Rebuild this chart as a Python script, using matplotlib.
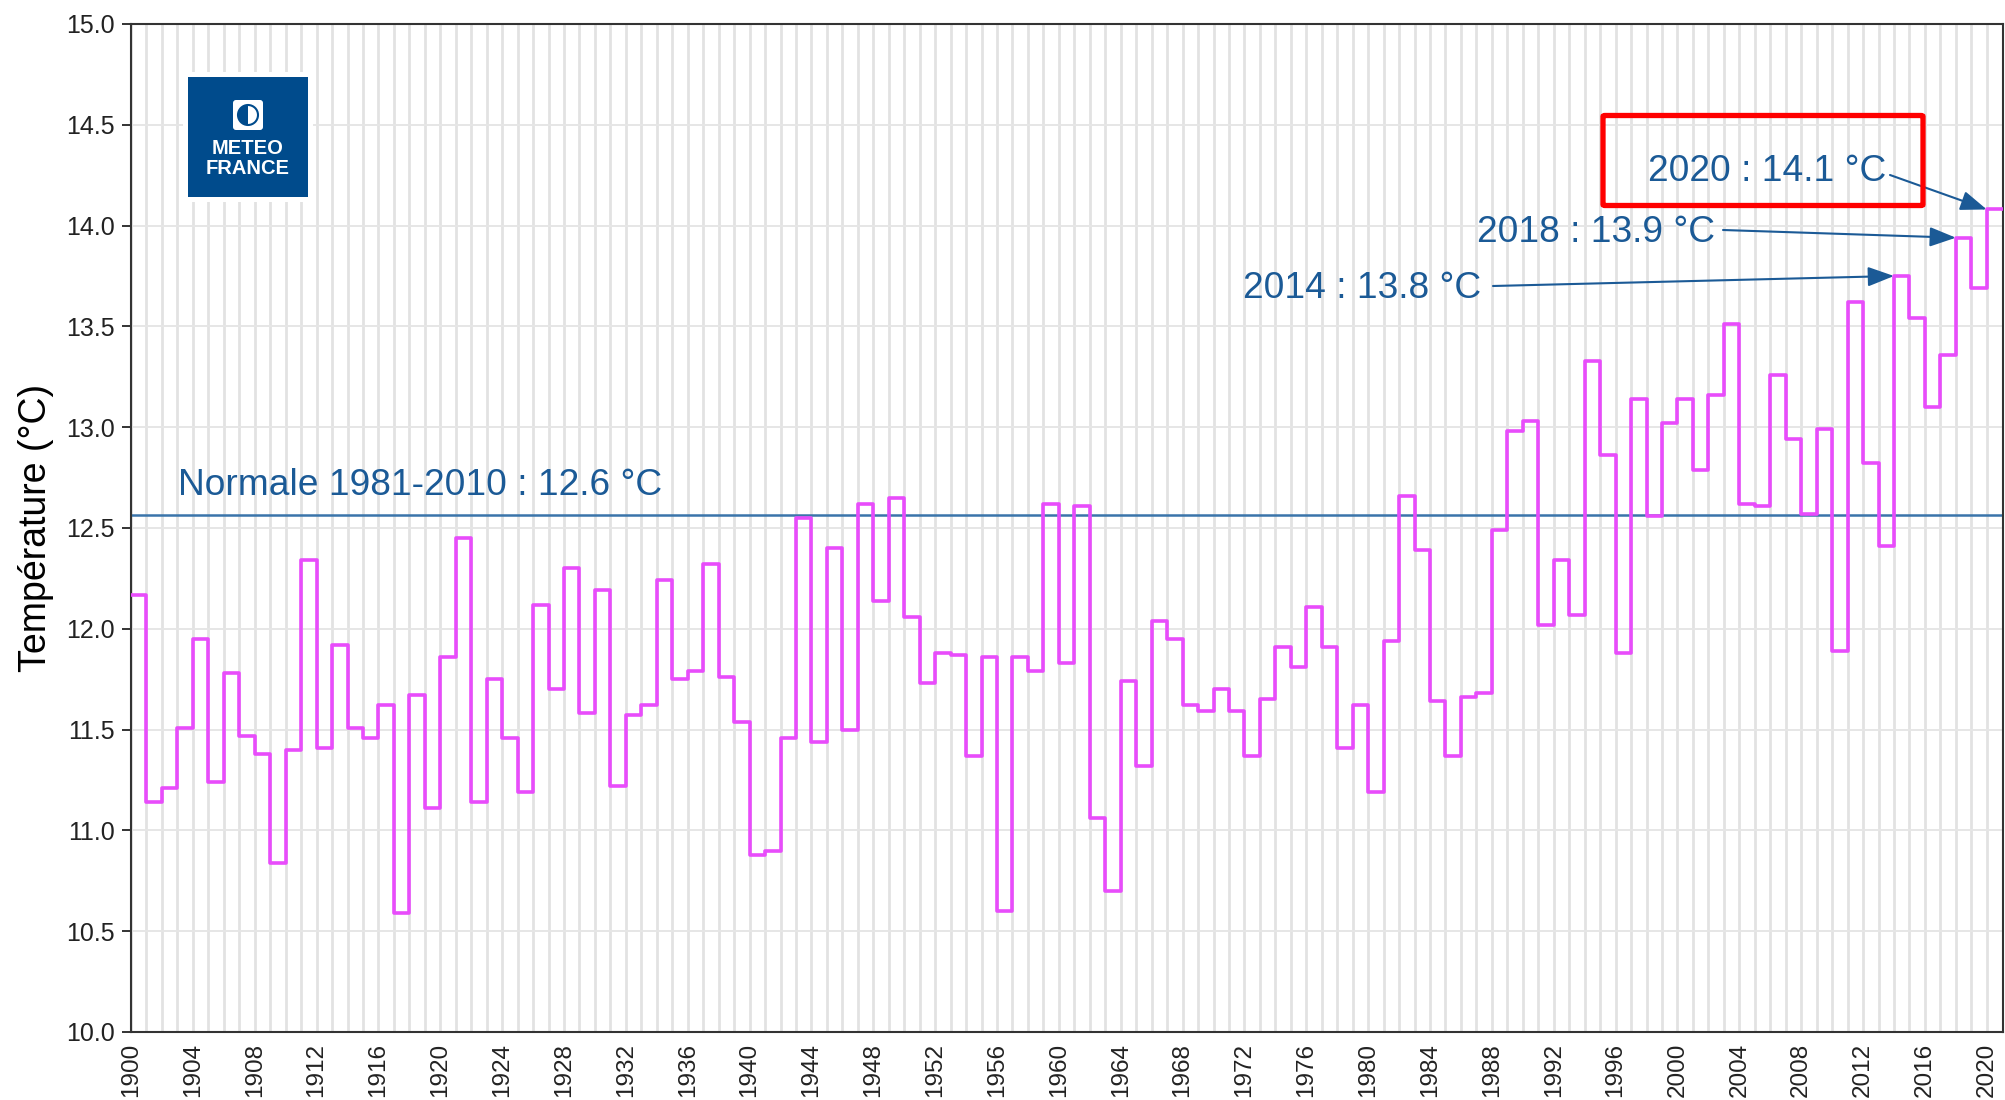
import matplotlib
matplotlib.use('Agg')
import matplotlib.pyplot as plt
from matplotlib.patches import Rectangle, FancyBboxPatch, Circle, Wedge
import numpy as np

plt.rcParams['font.family'] = ['Liberation Sans', 'DejaVu Sans']

# Température moyenne annuelle en France (°C), 1900-2020
annees = list(range(1900, 2021))
temperatures = [
    12.17, 11.14, 11.21, 11.51, 11.95, 11.24, 11.78, 11.47, 11.38, 10.84,  # 1900-1909
    11.40, 12.34, 11.41, 11.92, 11.51, 11.46, 11.62, 10.59, 11.67, 11.11,  # 1910-1919
    11.86, 12.45, 11.14, 11.75, 11.46, 11.19, 12.12, 11.70, 12.30, 11.58,  # 1920-1929
    12.19, 11.22, 11.57, 11.62, 12.24, 11.75, 11.79, 12.32, 11.76, 11.54,  # 1930-1939
    10.88, 10.90, 11.46, 12.55, 11.44, 12.40, 11.50, 12.62, 12.14, 12.65,  # 1940-1949
    12.06, 11.73, 11.88, 11.87, 11.37, 11.86, 10.60, 11.86, 11.79, 12.62,  # 1950-1959
    11.83, 12.61, 11.06, 10.70, 11.74, 11.32, 12.04, 11.95, 11.62, 11.59,  # 1960-1969
    11.70, 11.59, 11.37, 11.65, 11.91, 11.81, 12.11, 11.91, 11.41, 11.62,  # 1970-1979
    11.19, 11.94, 12.66, 12.39, 11.64, 11.37, 11.66, 11.68, 12.49, 12.98,  # 1980-1989
    13.03, 12.02, 12.34, 12.07, 13.33, 12.86, 11.88, 13.14, 12.56, 13.02,  # 1990-1999
    13.14, 12.79, 13.16, 13.51, 12.62, 12.61, 13.26, 12.94, 12.57, 12.99,  # 2000-2009
    11.89, 13.62, 12.82, 12.41, 13.75, 13.54, 13.10, 13.36, 13.94, 13.69,  # 2010-2019
    14.08,                                                                  # 2020
]
normale = 12.565
normale_label = "Normale 1981-2010 : 12.6 °C"

record_years = [2014, 2018, 2020]
record_labels = ["2014 : 13.8 °C", "2018 : 13.9 °C", "2020 : 14.1 °C"]

W, H = 2005, 1100
BLUE_TXT = '#1b5a96'


def fp(x, y):
    # pixel position (from top-left) -> figure fraction
    return (x / W, 1 - y / H)


fig = plt.figure(figsize=(W / 100, H / 100), dpi=100)
ax = fig.add_axes([131 / W, 1 - 1032 / H, (2003 - 131) / W, (1032 - 24) / H])

# courbe en escalier (une marche par année)
x_step = annees + [annees[-1] + 1]
y_step = temperatures + [temperatures[-1]]
ax.step(x_step, y_step, where='post', color='#e84cfb', lw=2.6, zorder=3)

# ligne de la normale
ax.axhline(normale, color='#3a74aa', lw=1.8, zorder=2)

ax.set_xlim(1900, 2021.05)
ax.set_ylim(10, 15)
ax.set_xticks(range(1900, 2021, 4))
ax.set_xticks(range(1900, 2021), minor=True)
ax.set_yticks(np.arange(10, 15.01, 0.5))
ax.set_yticklabels([f"{v:.1f}" for v in np.arange(10, 15.01, 0.5)])
ax.tick_params(axis='x', which='both', length=0, pad=8, labelsize=17.5,
               labelrotation=90, labelcolor='#222222')
ax.tick_params(axis='y', length=6.5, width=1.4, pad=5, labelsize=18,
               labelcolor='#222222', color='#333333')

ax.grid(axis='x', which='both', color='#e2e2e2', lw=2.0, zorder=0)
ax.grid(axis='y', which='major', color='#e6e6e6', lw=1.4, zorder=0)
ax.set_axisbelow(True)
for s in ax.spines.values():
    s.set_color('#333333')
    s.set_linewidth(1.5)

ax.set_ylabel("Température (°C)", fontsize=27, color='black')
ax.yaxis.set_label_coords(-0.041, 0.5)

# textes et flèches
fig.text(*fp(178, 495), normale_label, fontsize=26.7, color=BLUE_TXT,
         ha='left', va='baseline')

text_pos = [(1243, 298), (1477, 242), (1648, 181)]
arrow_start = [(1493, 286), (1723, 230), (1890, 175)]
for yr, lab, tp, st in zip(record_years, record_labels, text_pos, arrow_start):
    fig.text(*fp(*tp), lab, fontsize=26.7, color=BLUE_TXT, ha='left', va='baseline')
    ax.annotate('', xy=(yr, temperatures[annees.index(yr)]), xycoords='data',
                xytext=fp(*st), textcoords='figure fraction',
                arrowprops=dict(arrowstyle='-|>,head_length=0.8,head_width=0.3',
                                mutation_scale=20, color=BLUE_TXT, lw=1.5,
                                shrinkA=0, shrinkB=0))

# cadre rouge autour de 2020
x0, y0 = fp(1603, 205.5)
x1, y1 = fp(1923, 115.5)
fig.add_artist(FancyBboxPatch((x0, y0), x1 - x0, y1 - y0,
                              boxstyle='round,pad=0,rounding_size=0.001',
                              transform=fig.transFigure, fill=False,
                              edgecolor='#ff0000', lw=3.8, zorder=10))

# logo Météo-France
lx0, ly0 = fp(183, 202)
fig.add_artist(Rectangle((lx0, ly0), 130 / W, 130 / H, transform=fig.transFigure,
                         facecolor='white', edgecolor='none', zorder=5))
lax = fig.add_axes([188 / W, 1 - 197 / H, 120 / W, 120 / H], zorder=6)
lax.set_xlim(0, 120)
lax.set_ylim(120, 0)
lax.axis('off')
lax.add_patch(Rectangle((0, 0), 120, 120, facecolor='#004b8c', edgecolor='none'))
lax.add_patch(FancyBboxPatch((45, 23), 30, 30, boxstyle='round,pad=0,rounding_size=3',
                             facecolor='white', edgecolor='none'))
lax.add_patch(Circle((60, 38), 10, facecolor='white', edgecolor='#004b8c', lw=1.5))
lax.add_patch(Wedge((60, 38), 10, 90, 270, facecolor='#004b8c', edgecolor='none'))
lax.text(60, 71, "METEO", color='white', fontsize=14.5, fontweight='bold',
         ha='center', va='center')
lax.text(60, 91, "FRANCE", color='white', fontsize=14.5, fontweight='bold',
         ha='center', va='center')

fig.savefig('out.png', dpi=100)
